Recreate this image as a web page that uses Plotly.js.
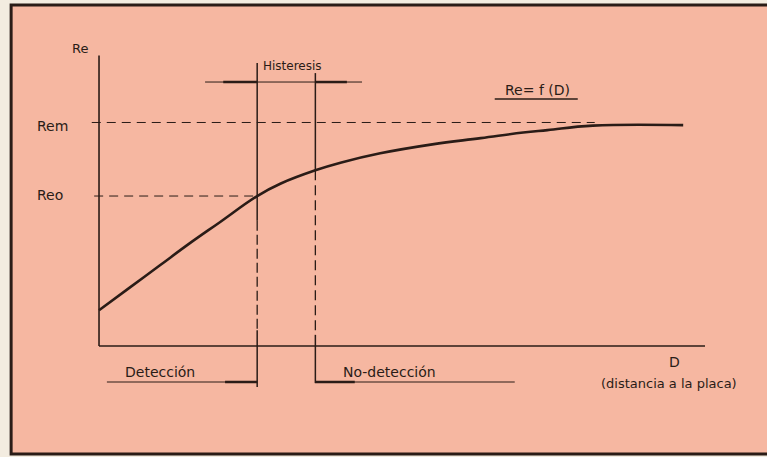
<!DOCTYPE html>
<html>
<head>
<meta charset="utf-8">
<script src="https://cdn.plot.ly/plotly-3.0.1.min.js"></script>
<style>html,body{margin:0;padding:0;background:#f3ece0;}#chart{width:767px;height:457px;}</style>
</head>
<body>
<div id="chart"></div>
<script>
// Curve Re = f(D)
const dValues = [0, 0.5, 1.0, 1.5, 2.0, 2.61, 3.0, 3.57, 4.0, 4.64, 5.5, 6.3, 7.0, 7.4, 8.15, 9.64];
const reValues = [1.6, 2.6, 3.6, 4.6, 5.55, 6.71, 7.27, 7.86, 8.21, 8.62, 9.02, 9.3, 9.55, 9.66, 9.86, 9.88];
// Reference levels
const levelNames = ["Rem", "Reo"];
const levelValues = [10, 6.71];
// Switching distances (detection / no-detection thresholds)
const switchNames = ["Detección", "No-detección"];
const switchD = [2.61, 3.57];
// Axis extents
const axisMaxD = 10.0;
const axisMaxRe = 13.0;
const labels = {yAxis: "Re", xAxis: "D", xAxisSub: "(distancia a la placa)", hyst: "Histeresis", func: "Re= f (D)"};

const ink = "#2a1c17";
const salmon = "#f6b7a1";
const traces = [];
function seg(x, y, w, dash) {
  traces.push({type: "scatter", mode: "lines", x: x, y: y, hoverinfo: "skip", showlegend: false,
    line: {color: ink, width: w, dash: dash || "solid"}});
}
// axes
seg([0, 0], [0, axisMaxRe], 1.6);
seg([0, axisMaxD], [0, 0], 1.6);
// dashed level lines
seg([-0.12, 8.18], [levelValues[0], levelValues[0]], 1, "9px,6px");
seg([-0.08, switchD[0]], [levelValues[1], levelValues[1]], 1, "9px,6px");
// vertical switching lines
seg([switchD[0], switchD[0]], [12.66, 5.6], 1.5);
seg([switchD[0], switchD[0]], [5.6, 0.7], 1.3, "10px,4px");
seg([switchD[0], switchD[0]], [0.7, -1.83], 1.5);
seg([switchD[1], switchD[1]], [12.21, 7.86], 1.5);
seg([switchD[1], switchD[1]], [7.86, 0.5], 1.3, "10px,5px");
seg([switchD[1], switchD[1]], [0.5, -1.66], 1.5);
// hysteresis bar
seg([1.75, 4.34], [11.81, 11.81], 1);
seg([2.05, switchD[0]], [11.81, 11.81], 2.5);
seg([switchD[1], 4.09], [11.81, 11.81], 2.5);
// detection underlines
seg([0.13, switchD[0]], [-1.61, -1.61], 1.2);
seg([2.08, switchD[0]], [-1.61, -1.61], 2.5);
seg([switchD[1], 6.86], [-1.61, -1.61], 1.2);
seg([switchD[1], 4.22], [-1.61, -1.61], 2.5);
// function label underline
seg([6.53, 7.90], [11.05, 11.05], 1.4);
// curve
traces.push({type: "scatter", mode: "lines", x: dValues, y: reValues, hoverinfo: "skip", showlegend: false,
  line: {color: ink, width: 2.6, shape: "spline", smoothing: 1.2}});

const font = {family: "DejaVu Sans, Verdana, sans-serif", size: 13, color: ink};
function ann(text, x, y, xanchor, size) {
  return {text: text, x: x, y: y, xref: "x", yref: "y", showarrow: false, xanchor: xanchor || "center",
    yanchor: "middle", font: Object.assign({}, font, {size: size || 13})};
}
const annotations = [
  ann(labels.yAxis, -0.31, 13.33, "center", 13),
  ann(levelNames[0], -1.06, levelValues[0] - 0.15, "left", 14),
  ann(levelNames[1], -1.06, levelValues[1] + 0.05, "left", 14),
  ann(labels.hyst, 3.2, 12.53, "center", 12),
  ann(labels.func, 7.23, 11.45, "center", 14),
  ann(switchNames[0], 1.0, -1.16, "center", 14),
  ann(switchNames[1], 4.79, -1.16, "center", 14),
  ann(labels.xAxis, 9.5, -0.72, "center", 14),
  ann(labels.xAxisSub, 9.41, -1.66, "center", 13)
];

const layout = {
  width: 767, height: 457,
  margin: {l: 0, r: 0, t: 0, b: 0},
  paper_bgcolor: "#f3ece0",
  plot_bgcolor: "rgba(0,0,0,0)",
  showlegend: false,
  xaxis: {range: [-1.634, 11.023], visible: false, showgrid: false, zeroline: false, fixedrange: true},
  yaxis: {range: [-4.966, 15.48], visible: false, showgrid: false, zeroline: false, fixedrange: true},
  shapes: [
    {type: "rect", xref: "paper", yref: "paper", x0: 0.0145, x1: 1.02, y0: 0.0066, y1: 0.989,
     fillcolor: salmon, line: {color: ink, width: 3}, layer: "below"}
  ],
  annotations: annotations
};
Plotly.newPlot("chart", traces, layout, {staticPlot: true, displayModeBar: false});
</script>
</body>
</html>
